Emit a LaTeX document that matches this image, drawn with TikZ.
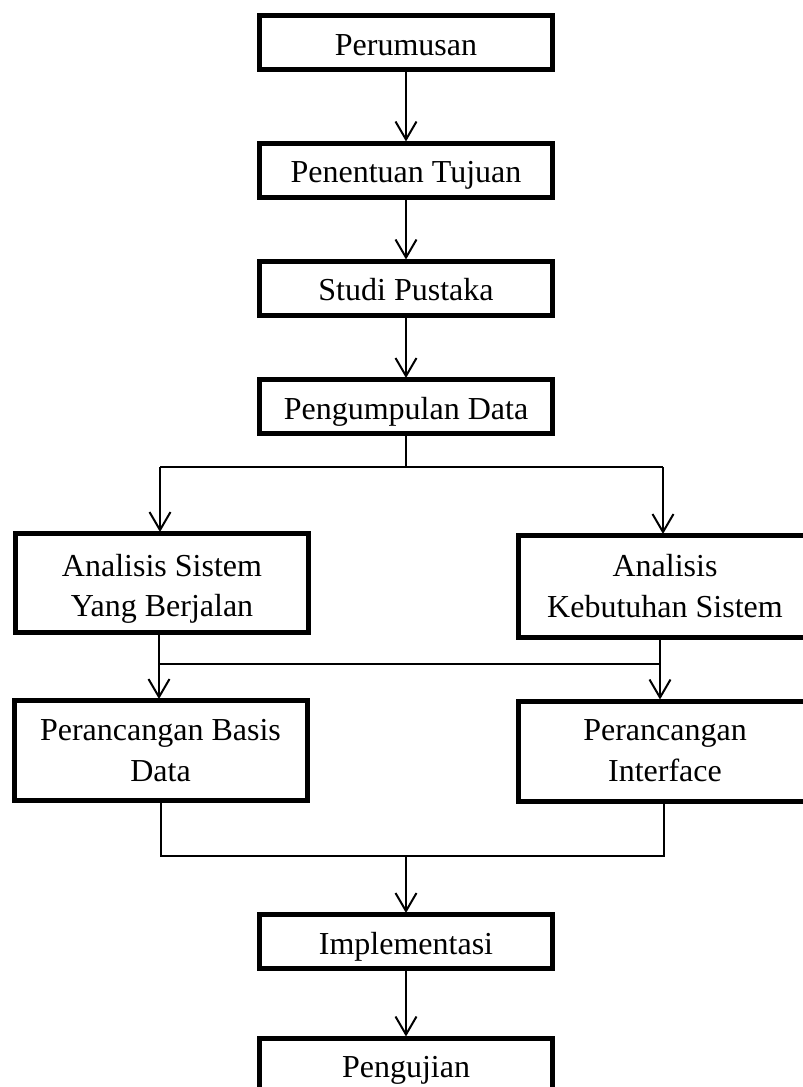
\documentclass[tikz,border=0pt]{standalone}
\usepackage{fontspec}
\setmainfont{Liberation Serif}
\usetikzlibrary{arrows.meta}
\begin{document}
\begin{tikzpicture}[x=1pt,y=-1pt,
  stepbox/.style={draw,line width=5pt,inner sep=0pt,minimum width=293pt,
    align=center,font=\fontsize{32}{41}\selectfont},
  oneline/.style={stepbox,minimum height=54pt,text height=25pt,text depth=0pt},
  twoline/.style={stepbox,minimum height=100pt},
  conn/.style={line width=2pt},
  arr/.style={conn,-{Straight Barb[length=18pt,width=21pt,line width=2pt]},shorten >=-1pt}]
\useasboundingbox (0,0) rectangle (803,1087);

\node[oneline] (n1) at (406,42.5) {Perumusan};
\node[oneline] (n2) at (406,170) {Penentuan Tujuan};
\node[oneline] (n3) at (406,288) {Studi Pustaka};
\node[oneline] (n4) at (406,406.5) {Pengumpulan Data};
\node[twoline,minimum height=99pt] (a1) at (162,583) {\rule{0pt}{34pt}Analisis Sistem\\[-1pt]Yang Berjalan};
\node[twoline,minimum height=102pt] (a2) at (665,586.5) {Analisis\\Kebutuhan Sistem};
\node[twoline] (p1) at (160.5,750.5) {Perancangan Basis\\Data};
\node[twoline] (p2) at (665,751) {Perancangan\\Interface};
\node[oneline] (n5) at (406,941.5) {Implementasi};
\node[oneline] (n6) at (406,1065) {Pengujian};

\draw[arr] (n1) -- (n2);
\draw[arr] (n2) -- (n3);
\draw[arr] (n3) -- (n4);

\coordinate (s0) at (406,467);
\coordinate (sL) at (160,467);
\coordinate (sR) at (663,467);
\draw[conn] (n4.south) -- (s0);
\draw[conn] (sL) -- (sR);
\draw[arr] (sL) -- (sL |- a1.north);
\draw[arr] (sR) -- (sR |- a2.north);

\coordinate (mL) at (159,664);
\coordinate (mR) at (660,664);
\draw[arr] (mL |- a1.south) -- (mL |- p1.north);
\draw[arr] (mR |- a2.south) -- (mR |- p2.north);
\draw[conn] (mL) -- (mR);

\coordinate (qL) at (161,856);
\coordinate (qR) at (664,856);
\coordinate (q0) at (406,856);
\draw[conn] (qL |- p1.south) -- (qL) -- (qR) -- (qR |- p2.south);
\draw[arr] (q0) -- (n5);
\draw[arr] (n5) -- (n6);
\end{tikzpicture}
\end{document}
